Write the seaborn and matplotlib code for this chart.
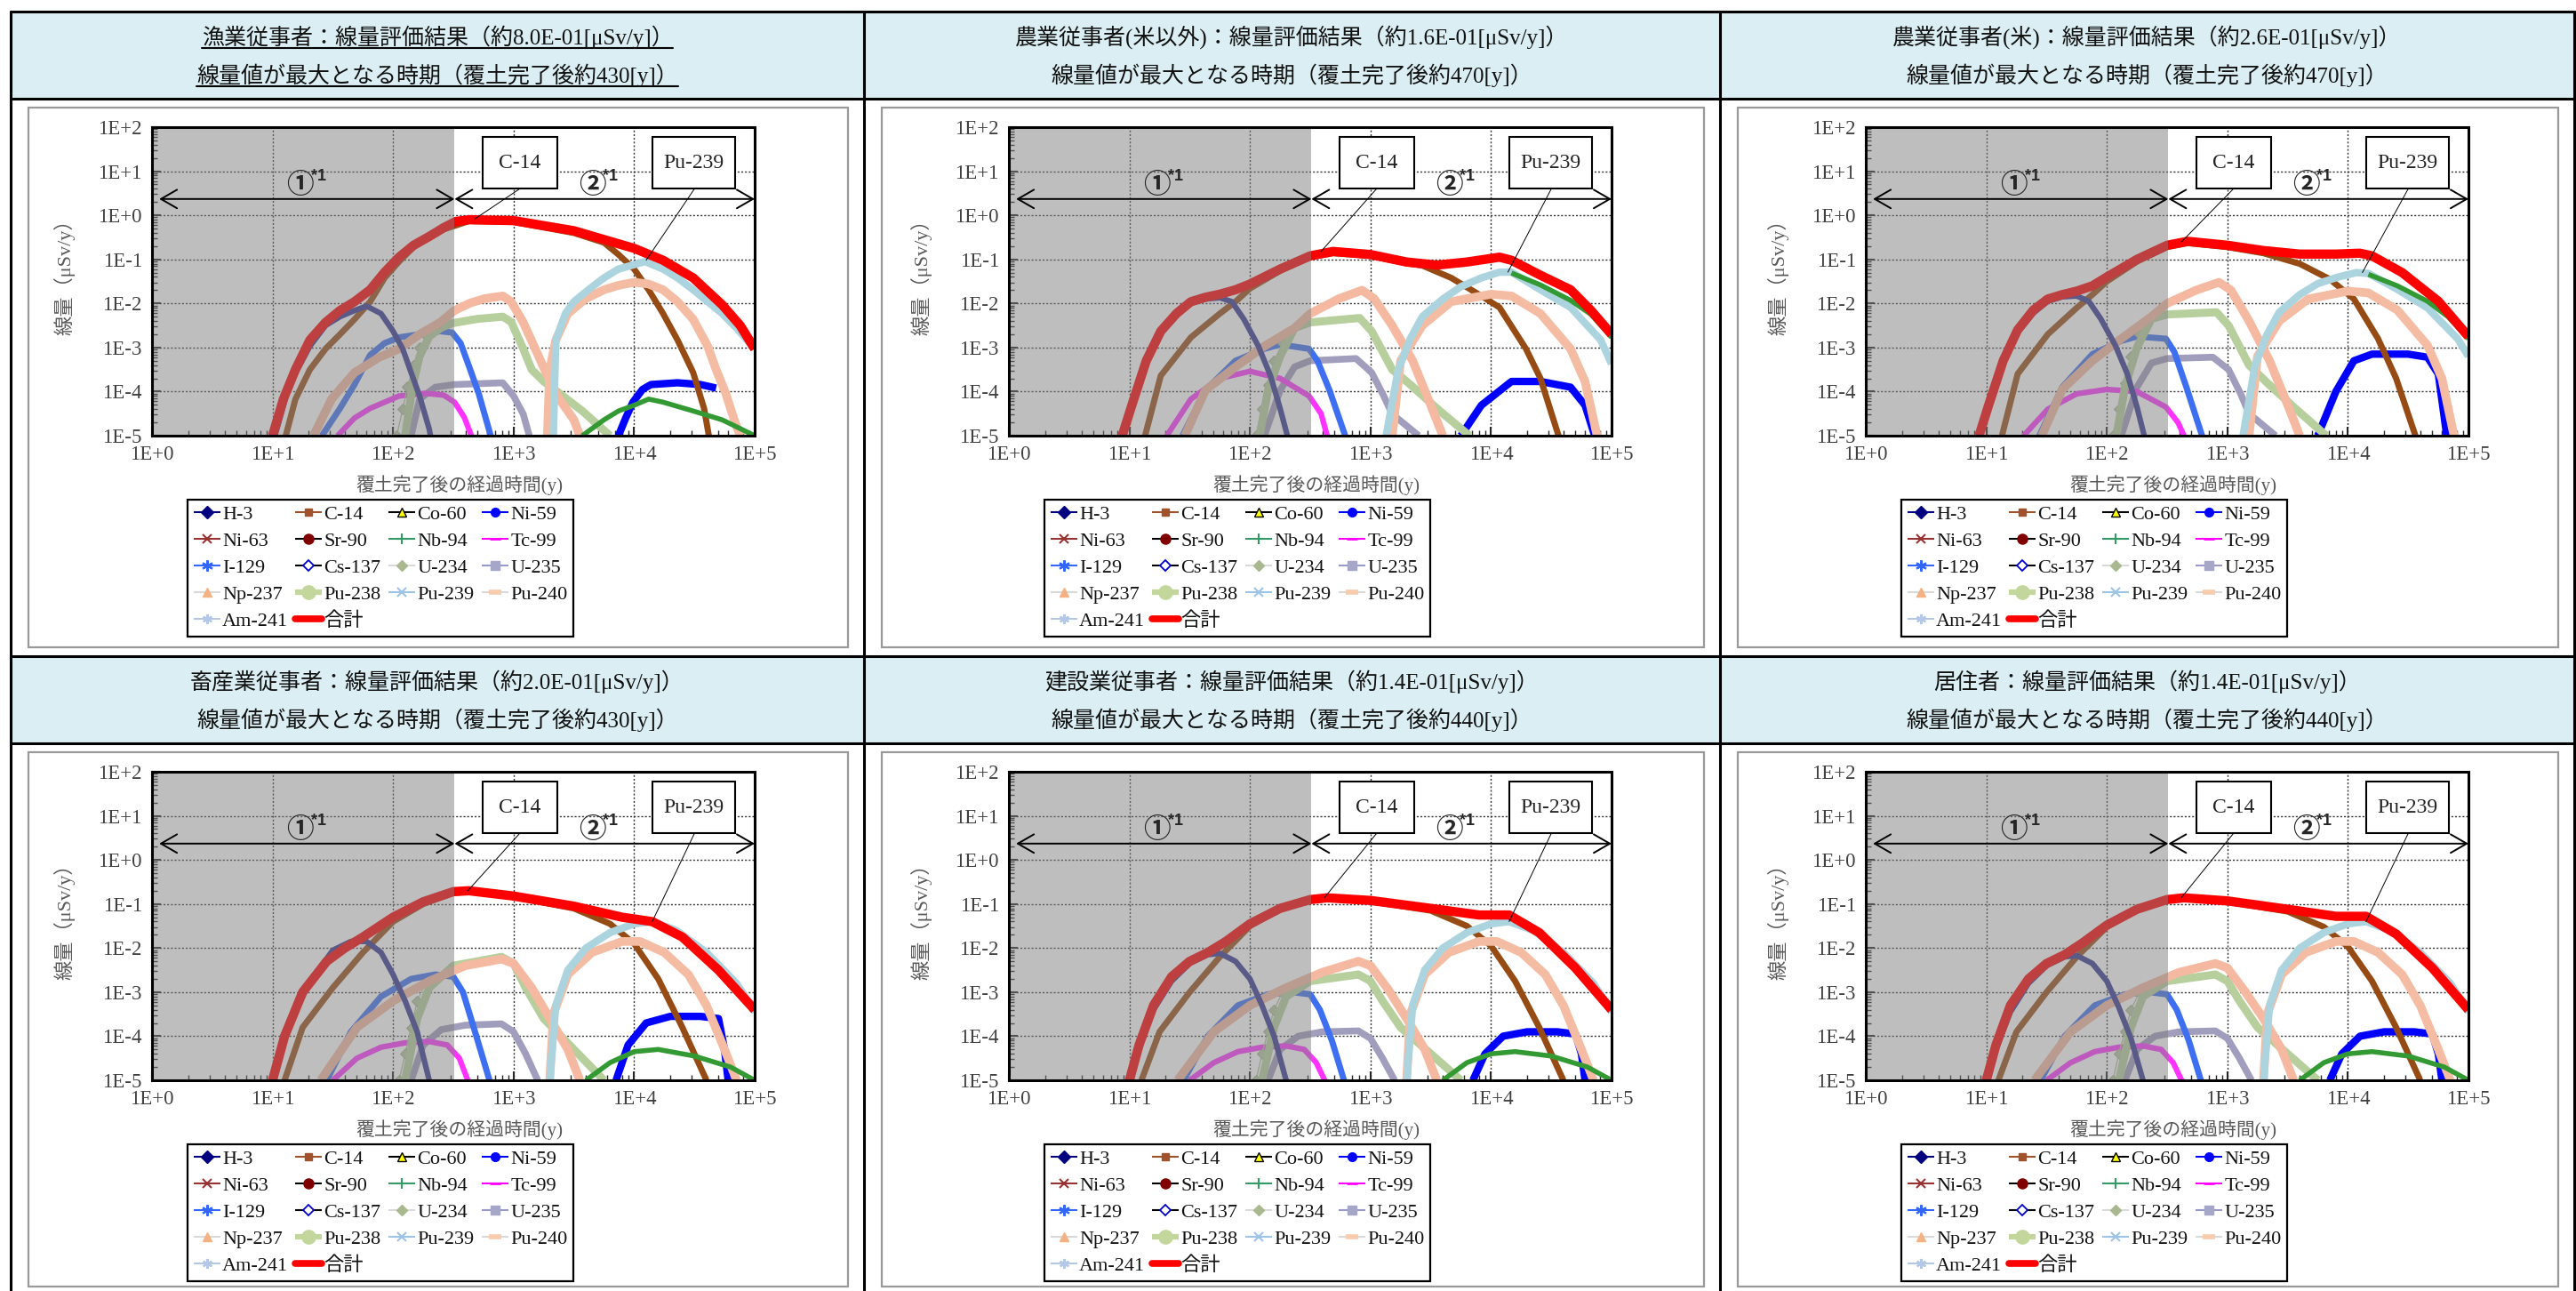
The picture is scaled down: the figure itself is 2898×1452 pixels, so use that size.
# -*- coding: utf-8 -*-
import numpy as np
import pandas as pd
import matplotlib
matplotlib.use("Agg")
import matplotlib.pyplot as plt
import matplotlib.ticker as mticker
from matplotlib.lines import Line2D
from matplotlib.patches import Rectangle
import seaborn as sns

# ---------------------------------------------------------------
# Titles
# ---------------------------------------------------------------
titles_top = [
    "漁業従事者：線量評価結果（約8.0E-01[μSv/y]）",
    "農業従事者(米以外)：線量評価結果（約1.6E-01[μSv/y]）",
    "農業従事者(米)：線量評価結果（約2.6E-01[μSv/y]）",
    "畜産業従事者：線量評価結果（約2.0E-01[μSv/y]）",
    "建設業従事者：線量評価結果（約1.4E-01[μSv/y]）",
    "居住者：線量評価結果（約1.4E-01[μSv/y]）",
]
peak_years = [430, 470, 470, 430, 440, 440]

nuclides = ["H-3", "C-14", "Co-60", "Ni-59", "Ni-63", "Sr-90", "Nb-94", "Tc-99",
            "I-129", "Cs-137", "U-234", "U-235", "Np-237", "Pu-238", "Pu-239",
            "Pu-240", "Am-241", "合計"]

# ---------------------------------------------------------------
# Curves: (log10 years, log10 μSv/y)
# ---------------------------------------------------------------
# 漁業従事者
fish_total = [(1.00, -5.0), (1.09, -4.17), (1.19, -3.50), (1.31, -2.83), (1.44, -2.43), (1.56, -2.16),
              (1.68, -1.96), (1.81, -1.69), (1.93, -1.29), (2.05, -0.95), (2.17, -0.68), (2.30, -0.48),
              (2.42, -0.28), (2.52, -0.14), (2.63, -0.10), (3.00, -0.12), (3.50, -0.35), (3.75, -0.55),
              (4.00, -0.75), (4.24, -1.02), (4.49, -1.42), (4.73, -2.03), (4.88, -2.50), (5.00, -3.03)]
fish_C14 = [(1.11, -5.0), (1.19, -4.17), (1.31, -3.50), (1.44, -3.03), (1.56, -2.70), (1.68, -2.36),
            (1.81, -1.96), (1.93, -1.42), (2.05, -1.05), (2.17, -0.72), (2.42, -0.32), (2.63, -0.13),
            (3.00, -0.15), (3.50, -0.40), (3.75, -0.62), (3.87, -0.89), (4.00, -1.22), (4.12, -1.69),
            (4.24, -2.23), (4.36, -2.83), (4.49, -3.57), (4.58, -4.38), (4.62, -5.0)]
fish_H3 = [(1.02, -5.0), (1.14, -3.84), (1.31, -2.97), (1.44, -2.50), (1.56, -2.30), (1.68, -2.16),
           (1.78, -2.06), (1.90, -2.23), (2.00, -2.63), (2.08, -3.03), (2.15, -3.57), (2.22, -4.10),
           (2.30, -4.85), (2.31, -5.0)]
fish_I129 = [(1.41, -5.0), (1.56, -4.38), (1.68, -3.84), (1.81, -3.17), (1.93, -2.90), (2.05, -2.77),
             (2.22, -2.70), (2.39, -2.63), (2.49, -2.66), (2.56, -2.90), (2.64, -3.50), (2.71, -4.04),
             (2.81, -5.0)]
fish_Tc99 = [(1.54, -5.0), (1.68, -4.60), (1.81, -4.38), (2.05, -4.10), (2.27, -4.04), (2.42, -4.08),
             (2.51, -4.24), (2.59, -4.58), (2.65, -5.0)]
fish_Np237 = [(1.34, -5.0), (1.49, -4.17), (1.68, -3.57), (1.88, -3.23), (2.05, -3.03), (2.22, -2.70),
              (2.39, -2.43), (2.51, -2.16), (2.64, -1.99), (2.76, -1.89), (2.91, -1.83), (2.98, -1.96),
              (3.08, -2.43), (3.18, -3.03), (3.28, -3.64), (3.38, -4.17), (3.50, -4.64), (3.55, -5.0)]
fish_U234 = [(2.03, -5.0), (2.08, -4.40), (2.12, -3.90), (2.17, -3.40), (2.22, -3.00), (2.28, -2.75)]
fish_Pu238 = [(2.10, -5.0), (2.16, -3.90), (2.22, -3.20), (2.30, -2.75), (2.40, -2.55), (2.49, -2.45),
              (2.70, -2.35), (2.91, -2.30), (2.98, -2.42), (3.08, -3.03), (3.15, -3.50), (3.25, -3.77),
              (3.38, -4.04), (3.57, -4.44), (3.80, -5.0)]
fish_U235 = [(2.15, -5.0), (2.22, -4.17), (2.35, -3.90), (2.51, -3.84), (2.91, -3.80), (3.00, -4.10),
             (3.08, -4.51), (3.13, -5.0)]
fish_Pu239 = [(3.33, -5.0), (3.35, -2.83), (3.43, -2.23), (3.50, -1.96), (3.62, -1.69), (3.75, -1.42),
              (3.87, -1.22), (4.00, -1.12), (4.09, -1.05), (4.24, -1.22), (4.36, -1.42), (4.49, -1.69),
              (4.61, -1.96), (4.73, -2.23), (4.85, -2.56), (5.00, -3.03)]
fish_Pu240 = [(3.28, -5.0), (3.30, -3.50), (3.35, -2.83), (3.45, -2.23), (3.60, -1.89), (3.75, -1.69),
              (3.87, -1.59), (4.00, -1.52), (4.12, -1.56), (4.24, -1.69), (4.36, -1.96), (4.49, -2.36),
              (4.61, -2.97), (4.68, -3.50), (4.76, -4.04), (4.83, -4.64), (4.88, -5.0)]
fish_Ni59 = [(3.87, -5.0), (3.93, -4.60), (3.99, -4.24), (4.07, -3.95), (4.14, -3.84), (4.36, -3.80),
             (4.55, -3.84), (4.68, -3.92)]
fish_Nb94 = [(3.57, -5.0), (3.75, -4.64), (3.87, -4.44), (4.00, -4.31), (4.12, -4.17), (4.24, -4.24),
             (4.49, -4.44), (4.73, -4.64), (5.00, -5.0)]

# 農業従事者(米以外)
agri_total = [(0.94, -5.0), (1.02, -4.31), (1.14, -3.30), (1.26, -2.63), (1.39, -2.23), (1.51, -1.96),
              (1.63, -1.86), (1.75, -1.79), (1.88, -1.69), (2.00, -1.56), (2.25, -1.22), (2.50, -0.92),
              (2.69, -0.82), (3.00, -0.89), (3.30, -1.06), (3.55, -1.13), (3.80, -1.06), (4.07, -0.95),
              (4.17, -1.02), (4.41, -1.36), (4.66, -1.69), (4.83, -2.16), (5.00, -2.70)]
agri_C14 = [(1.13, -5.0), (1.26, -3.64), (1.51, -2.77), (1.75, -2.23), (1.88, -1.96), (2.00, -1.66),
            (2.25, -1.26), (2.50, -0.95), (2.69, -0.86), (3.00, -0.92), (3.30, -1.09), (3.43, -1.14),
            (3.67, -1.42), (3.92, -1.83), (4.07, -2.09), (4.29, -3.03), (4.41, -3.70), (4.56, -5.0)]
agri_H3 = [(0.95, -5.0), (1.03, -4.30), (1.14, -3.35), (1.26, -2.68), (1.39, -2.28), (1.51, -2.00),
           (1.63, -1.90), (1.75, -1.87), (1.85, -1.96), (1.95, -2.36), (2.07, -2.97), (2.17, -3.64),
           (2.25, -4.38), (2.31, -5.0)]
agri_I129 = [(1.44, -5.0), (1.63, -3.97), (1.88, -3.30), (2.12, -3.03), (2.25, -2.93), (2.49, -3.03),
             (2.56, -3.30), (2.66, -3.97), (2.79, -5.0)]
agri_Tc99 = [(1.31, -5.0), (1.51, -4.17), (1.75, -3.70), (2.00, -3.54), (2.25, -3.70), (2.49, -4.10),
             (2.59, -4.50), (2.64, -5.0)]
agri_Np237 = [(1.46, -5.0), (1.63, -3.97), (1.88, -3.44), (2.12, -2.97), (2.37, -2.56), (2.50, -2.23),
              (2.74, -1.89), (2.93, -1.70), (3.03, -1.89), (3.18, -2.50), (3.35, -3.30), (3.50, -4.31),
              (3.60, -5.0)]
agri_U234 = [(2.05, -5.0), (2.10, -4.40), (2.15, -3.85), (2.20, -3.30), (2.27, -2.90)]
agri_Pu238 = [(2.08, -5.0), (2.15, -3.97), (2.25, -3.20), (2.37, -2.56), (2.50, -2.43), (2.91, -2.33),
              (3.01, -2.63), (3.18, -3.50), (3.33, -3.84), (3.55, -4.38), (3.82, -5.0)]
agri_U235 = [(2.12, -5.0), (2.25, -3.97), (2.37, -3.44), (2.50, -3.30), (2.88, -3.25), (3.01, -3.57),
             (3.11, -4.10), (3.18, -4.51), (3.40, -5.0)]
agri_Pu239 = [(3.13, -5.0), (3.23, -3.50), (3.33, -2.80), (3.43, -2.30), (3.60, -1.90), (3.75, -1.62),
              (3.92, -1.42), (4.07, -1.29), (4.17, -1.29), (4.41, -1.69), (4.66, -2.09), (4.91, -2.83),
              (5.00, -3.37)]
agri_Nb94 = [(4.17, -1.31), (4.41, -1.58), (4.66, -1.93), (4.83, -2.25), (5.00, -2.77)]
agri_Pu240 = [(3.18, -5.0), (3.25, -3.30), (3.43, -2.50), (3.67, -1.96), (4.00, -1.79), (4.17, -1.83),
              (4.41, -2.23), (4.66, -3.03), (4.78, -3.77), (4.88, -5.0)]
agri_Ni59 = [(3.75, -5.0), (3.92, -4.31), (4.17, -3.77), (4.41, -3.77), (4.66, -3.90), (4.78, -4.31),
             (4.86, -5.0)]

# 農業従事者(米)
rice_total = [(0.94, -5.0), (1.02, -4.30), (1.14, -3.30), (1.26, -2.60), (1.39, -2.15), (1.51, -1.90),
              (1.63, -1.80), (1.75, -1.72), (1.88, -1.60), (2.00, -1.40), (2.25, -1.00), (2.50, -0.68),
              (2.67, -0.59), (3.00, -0.68), (3.30, -0.80), (3.60, -0.88), (3.90, -0.88), (4.10, -0.86),
              (4.20, -0.92), (4.45, -1.30), (4.75, -1.95), (5.00, -2.75)]
rice_C14 = [(1.13, -5.0), (1.26, -3.60), (1.51, -2.70), (1.75, -2.10), (1.88, -1.80), (2.00, -1.50),
            (2.25, -1.05), (2.50, -0.72), (2.67, -0.63), (3.00, -0.72), (3.30, -0.86), (3.60, -1.10),
            (3.85, -1.45), (4.05, -1.90), (4.25, -2.80), (4.40, -3.70), (4.56, -5.0)]
rice_H3 = [(0.95, -5.0), (1.03, -4.30), (1.14, -3.35), (1.26, -2.66), (1.39, -2.22), (1.51, -1.95),
           (1.63, -1.85), (1.75, -1.83), (1.85, -1.95), (1.95, -2.35), (2.07, -2.95), (2.17, -3.60),
           (2.25, -4.35), (2.31, -5.0)]
rice_I129 = [(1.44, -5.0), (1.63, -3.90), (1.88, -3.15), (2.12, -2.85), (2.25, -2.75), (2.49, -2.80),
             (2.56, -3.10), (2.66, -3.90), (2.79, -5.0)]
rice_Tc99 = [(1.31, -5.0), (1.51, -4.40), (1.75, -4.05), (2.00, -3.95), (2.25, -4.00), (2.49, -4.35),
             (2.59, -4.70), (2.64, -5.0)]
rice_Np237 = [(1.46, -5.0), (1.63, -3.95), (1.88, -3.30), (2.12, -2.80), (2.37, -2.30), (2.50, -2.00),
              (2.74, -1.70), (2.93, -1.52), (3.03, -1.70), (3.18, -2.40), (3.35, -3.30), (3.50, -4.30),
              (3.60, -5.0)]
rice_U234 = [(2.05, -5.0), (2.10, -4.40), (2.15, -3.80), (2.20, -3.20), (2.27, -2.70)]
rice_Pu238 = [(2.08, -5.0), (2.15, -3.90), (2.25, -3.00), (2.37, -2.35), (2.50, -2.25), (2.91, -2.20),
              (3.01, -2.50), (3.18, -3.40), (3.33, -3.80), (3.55, -4.35), (3.82, -5.0)]
rice_U235 = [(2.12, -5.0), (2.25, -3.90), (2.37, -3.35), (2.50, -3.25), (2.88, -3.22), (3.01, -3.50),
             (3.11, -4.05), (3.18, -4.50), (3.40, -5.0)]
rice_Pu239 = [(3.13, -5.0), (3.23, -3.40), (3.33, -2.70), (3.43, -2.20), (3.60, -1.80), (3.75, -1.55),
              (3.92, -1.40), (4.07, -1.30), (4.17, -1.32), (4.41, -1.68), (4.66, -2.10), (4.91, -2.80),
              (5.00, -3.20)]
rice_Nb94 = [(4.17, -1.34), (4.41, -1.60), (4.66, -1.95), (4.83, -2.30), (5.00, -2.80)]
rice_Pu240 = [(3.18, -5.0), (3.25, -3.20), (3.43, -2.40), (3.67, -1.90), (4.00, -1.72), (4.17, -1.76),
              (4.41, -2.15), (4.66, -2.95), (4.78, -3.70), (4.88, -5.0)]
rice_Ni59 = [(3.75, -5.0), (3.90, -4.00), (4.05, -3.30), (4.20, -3.15), (4.50, -3.15), (4.66, -3.22),
             (4.75, -3.60), (4.82, -5.0)]

# 畜産業従事者
stock_total = [(1.00, -5.0), (1.10, -4.00), (1.25, -3.00), (1.45, -2.30), (1.60, -2.00), (1.75, -1.75),
               (2.00, -1.30), (2.25, -0.95), (2.50, -0.72), (2.63, -0.70), (3.00, -0.82), (3.50, -1.05),
               (3.90, -1.30), (4.15, -1.40), (4.40, -1.75), (4.70, -2.50), (5.00, -3.40)]
stock_C14 = [(1.10, -5.0), (1.25, -3.80), (1.50, -2.90), (1.75, -2.10), (2.00, -1.40), (2.25, -1.00),
             (2.50, -0.75), (2.63, -0.72), (3.00, -0.84), (3.50, -1.10), (3.80, -1.45), (4.00, -1.90),
             (4.20, -2.70), (4.40, -3.80), (4.60, -5.0)]
stock_H3 = [(1.00, -5.0), (1.10, -4.00), (1.30, -2.80), (1.50, -2.05), (1.65, -1.85), (1.78, -1.85),
            (1.90, -2.10), (2.00, -2.60), (2.10, -3.20), (2.20, -3.90), (2.30, -5.0)]
stock_I129 = [(1.45, -5.0), (1.65, -3.90), (1.90, -3.10), (2.15, -2.70), (2.35, -2.60), (2.50, -2.65),
              (2.58, -3.00), (2.68, -3.90), (2.80, -5.0)]
stock_Tc99 = [(1.50, -5.0), (1.70, -4.50), (1.90, -4.25), (2.10, -4.15), (2.30, -4.12), (2.45, -4.20),
              (2.55, -4.50), (2.62, -5.0)]
stock_Np237 = [(1.40, -5.0), (1.70, -3.80), (2.00, -3.20), (2.30, -2.75), (2.60, -2.40), (2.90, -2.25),
               (3.00, -2.35), (3.15, -2.90), (3.30, -3.60), (3.45, -4.30), (3.55, -5.0)]
stock_U234 = [(2.05, -5.0), (2.10, -4.40), (2.15, -3.80), (2.20, -3.20), (2.27, -2.80)]
stock_Pu238 = [(2.10, -5.0), (2.20, -3.60), (2.30, -2.90), (2.50, -2.40), (2.90, -2.20), (3.00, -2.35),
               (3.10, -2.90), (3.25, -3.60), (3.50, -4.30), (3.75, -5.0)]
stock_U235 = [(2.15, -5.0), (2.25, -4.20), (2.40, -3.85), (2.60, -3.75), (2.90, -3.72), (3.00, -3.90),
              (3.10, -4.40), (3.20, -5.0)]
stock_Pu239 = [(3.30, -5.0), (3.35, -3.30), (3.45, -2.50), (3.60, -2.00), (3.80, -1.65), (4.00, -1.45),
               (4.15, -1.40), (4.35, -1.60), (4.60, -2.10), (4.85, -2.80), (5.00, -3.45)]
stock_Pu240 = [(3.30, -5.0), (3.33, -3.50), (3.45, -2.60), (3.65, -2.10), (3.90, -1.85), (4.05, -1.85),
               (4.25, -2.10), (4.45, -2.60), (4.60, -3.30), (4.75, -4.30), (4.85, -5.0)]
stock_Ni59 = [(3.85, -5.0), (3.95, -4.20), (4.10, -3.70), (4.30, -3.55), (4.55, -3.55), (4.70, -3.60),
              (4.75, -4.30), (4.78, -5.0)]
stock_Nb94 = [(3.60, -5.0), (3.80, -4.60), (4.00, -4.35), (4.20, -4.30), (4.50, -4.45), (4.80, -4.70),
              (5.00, -5.0)]

# 建設業従事者
build_total = [(1.00, -5.0), (1.08, -4.20), (1.20, -3.30), (1.35, -2.65), (1.50, -2.30), (1.65, -2.10),
               (1.80, -1.85), (2.00, -1.45), (2.25, -1.10), (2.50, -0.90), (2.64, -0.86), (3.00, -0.92),
               (3.50, -1.10), (3.90, -1.25), (4.15, -1.25), (4.40, -1.65), (4.70, -2.45), (5.00, -3.40)]
build_C14 = [(1.10, -5.0), (1.25, -3.90), (1.50, -3.00), (1.75, -2.20), (2.00, -1.50), (2.25, -1.12),
             (2.50, -0.92), (2.64, -0.88), (3.00, -0.94), (3.50, -1.15), (3.80, -1.50), (4.00, -1.95),
             (4.20, -2.75), (4.40, -3.80), (4.60, -5.0)]
build_H3 = [(1.00, -5.0), (1.08, -4.25), (1.20, -3.40), (1.35, -2.75), (1.50, -2.35), (1.65, -2.15),
            (1.75, -2.12), (1.88, -2.30), (2.00, -2.70), (2.10, -3.30), (2.20, -4.00), (2.30, -5.0)]
build_I129 = [(1.45, -5.0), (1.65, -4.00), (1.90, -3.30), (2.15, -3.05), (2.35, -3.00), (2.50, -3.05),
              (2.58, -3.40), (2.68, -4.10), (2.78, -5.0)]
build_Tc99 = [(1.50, -5.0), (1.70, -4.60), (1.90, -4.35), (2.10, -4.25), (2.30, -4.22), (2.45, -4.30),
              (2.55, -4.60), (2.62, -5.0)]
build_Np237 = [(1.40, -5.0), (1.70, -3.90), (2.00, -3.30), (2.30, -2.90), (2.60, -2.55), (2.90, -2.30),
               (3.00, -2.40), (3.15, -2.95), (3.30, -3.60), (3.45, -4.30), (3.55, -5.0)]
build_U234 = [(2.05, -5.0), (2.10, -4.40), (2.15, -3.90), (2.20, -3.40), (2.27, -3.00)]
build_Pu238 = [(2.10, -5.0), (2.20, -3.80), (2.30, -3.10), (2.50, -2.75), (2.90, -2.60), (3.00, -2.75),
               (3.10, -3.20), (3.25, -3.80), (3.50, -4.40), (3.75, -5.0)]
build_U235 = [(2.15, -5.0), (2.25, -4.30), (2.40, -4.00), (2.60, -3.90), (2.90, -3.88), (3.00, -4.05),
              (3.10, -4.50), (3.20, -5.0)]
build_Pu239 = [(3.30, -5.0), (3.35, -3.30), (3.45, -2.50), (3.60, -2.00), (3.80, -1.65), (4.00, -1.45),
               (4.15, -1.40), (4.35, -1.60), (4.60, -2.10), (4.85, -2.80), (5.00, -3.45)]
build_Pu240 = [(3.30, -5.0), (3.33, -3.50), (3.45, -2.60), (3.65, -2.10), (3.90, -1.85), (4.05, -1.85),
               (4.25, -2.10), (4.45, -2.60), (4.60, -3.30), (4.75, -4.30), (4.85, -5.0)]
build_Ni59 = [(3.85, -5.0), (3.95, -4.40), (4.10, -4.00), (4.30, -3.90), (4.55, -3.90), (4.70, -3.95),
              (4.75, -4.40), (4.78, -5.0)]
build_Nb94 = [(3.60, -5.0), (3.80, -4.60), (4.00, -4.40), (4.20, -4.35), (4.50, -4.45), (4.80, -4.70),
              (5.00, -5.0)]

# 居住者
home_total = [(1.00, -5.0), (1.08, -4.20), (1.20, -3.30), (1.35, -2.70), (1.50, -2.35), (1.65, -2.15),
              (1.80, -1.88), (2.00, -1.48), (2.25, -1.12), (2.50, -0.90), (2.64, -0.86), (3.00, -0.93),
              (3.50, -1.12), (3.90, -1.28), (4.15, -1.28), (4.40, -1.68), (4.70, -2.45), (5.00, -3.40)]
home_C14 = [(1.10, -5.0), (1.25, -3.90), (1.50, -3.00), (1.75, -2.20), (2.00, -1.52), (2.25, -1.14),
            (2.50, -0.92), (2.64, -0.88), (3.00, -0.95), (3.50, -1.17), (3.80, -1.52), (4.00, -1.97),
            (4.20, -2.75), (4.40, -3.80), (4.60, -5.0)]
home_H3 = [(1.00, -5.0), (1.08, -4.30), (1.20, -3.45), (1.35, -2.80), (1.50, -2.40), (1.65, -2.20),
           (1.75, -2.17), (1.88, -2.35), (2.00, -2.75), (2.10, -3.35), (2.20, -4.05), (2.30, -5.0)]
home_I129 = [(1.45, -5.0), (1.65, -4.00), (1.90, -3.30), (2.15, -3.05), (2.35, -3.00), (2.50, -3.05),
             (2.58, -3.40), (2.68, -4.10), (2.78, -5.0)]
home_Tc99 = [(1.50, -5.0), (1.70, -4.60), (1.90, -4.35), (2.10, -4.25), (2.30, -4.22), (2.45, -4.30),
             (2.55, -4.60), (2.62, -5.0)]
home_Np237 = [(1.40, -5.0), (1.70, -3.90), (2.00, -3.30), (2.30, -2.90), (2.60, -2.55), (2.90, -2.35),
              (3.00, -2.45), (3.15, -3.00), (3.30, -3.60), (3.45, -4.30), (3.55, -5.0)]
home_U234 = [(2.05, -5.0), (2.10, -4.40), (2.15, -3.90), (2.20, -3.40), (2.27, -3.00)]
home_Pu238 = [(2.10, -5.0), (2.20, -3.80), (2.30, -3.10), (2.50, -2.75), (2.90, -2.60), (3.00, -2.75),
              (3.10, -3.20), (3.25, -3.80), (3.50, -4.40), (3.75, -5.0)]
home_U235 = [(2.15, -5.0), (2.25, -4.30), (2.40, -4.00), (2.60, -3.90), (2.90, -3.88), (3.00, -4.05),
             (3.10, -4.50), (3.20, -5.0)]
home_Pu239 = [(3.30, -5.0), (3.35, -3.30), (3.45, -2.50), (3.60, -2.00), (3.80, -1.65), (4.00, -1.45),
              (4.15, -1.40), (4.35, -1.60), (4.60, -2.10), (4.85, -2.80), (5.00, -3.45)]
home_Pu240 = [(3.30, -5.0), (3.33, -3.50), (3.45, -2.60), (3.65, -2.10), (3.90, -1.85), (4.05, -1.85),
              (4.25, -2.10), (4.45, -2.60), (4.60, -3.30), (4.75, -4.30), (4.85, -5.0)]
home_Ni59 = [(3.85, -5.0), (3.95, -4.40), (4.10, -4.00), (4.30, -3.90), (4.55, -3.90), (4.70, -3.95),
             (4.75, -4.40), (4.78, -5.0)]
home_Nb94 = [(3.60, -5.0), (3.80, -4.60), (4.00, -4.40), (4.20, -4.35), (4.50, -4.45), (4.80, -4.70),
             (5.00, -5.0)]

# points the C-14 / Pu-239 call-out lines point at (log10 coords)
c14_marks = [(2.68, -0.08), (2.59, -0.82), (2.62, -0.60), (2.62, -0.70), (2.62, -0.85), (2.62, -0.85)]
pu_marks = [(4.10, -1.02), (4.14, -1.29), (4.12, -1.30), (4.15, -1.40), (4.15, -1.40), (4.15, -1.40)]

panels = []
for pre in ["fish", "agri", "rice", "stock", "build", "home"]:
    g = globals()
    panels.append({
        "合計": g[pre + "_total"], "C-14": g[pre + "_C14"], "H-3": g[pre + "_H3"],
        "I-129": g[pre + "_I129"], "Tc-99": g[pre + "_Tc99"], "Np-237": g[pre + "_Np237"],
        "U-234": g[pre + "_U234"], "Pu-238": g[pre + "_Pu238"], "U-235": g[pre + "_U235"],
        "Pu-239": g[pre + "_Pu239"], "Pu-240": g[pre + "_Pu240"], "Ni-59": g[pre + "_Ni59"],
        "Nb-94": g[pre + "_Nb94"],
    })

# ---------------------------------------------------------------
# Styles
# ---------------------------------------------------------------
curve_style = {  # colour, line width
    "H-3": ("#343590", 4.5), "C-14": ("#964B14", 5.0), "Ni-59": ("#0000ff", 6.0),
    "Nb-94": ("#339933", 4.0), "Tc-99": ("#ff33ff", 4.5), "I-129": ("#3d6ff0", 5.0),
    "U-234": ("#b6c4a2", 1.0), "U-235": ("#a19dbd", 5.5), "Np-237": ("#f4b9a0", 7.0),
    "Pu-238": ("#b7cf9c", 6.5), "Pu-239": ("#acd4df", 6.0), "Pu-240": ("#f5bca4", 7.0),
    "合計": ("#ff0000", 7.5),
}
draw_order = ["Ni-59", "U-235", "Tc-99", "I-129", "U-234", "Pu-238", "Np-237", "C-14", "H-3",
              "Pu-240", "Pu-239", "Nb-94", "合計"]

legend_style = {  # line colour, lw, marker, size, face, edge, edge width
    "H-3": ("#000080", 1.5, "D", 7, "#000080", "#000080", 1),
    "C-14": ("#a0522d", 1.5, "s", 6, "#a0522d", "#a0522d", 1),
    "Co-60": ("#000000", 1.5, "^", 7, "#ffff00", "#000000", 1),
    "Ni-59": ("#0000ff", 1.5, "o", 7, "#0000ff", "#0000ff", 1),
    "Ni-63": ("#993333", 1.5, "x", 7, "#993333", "#993333", 1.5),
    "Sr-90": ("#000000", 1.5, "o", 8, "#800000", "#800000", 1),
    "Nb-94": ("#339966", 1.5, "+", 8, "#339966", "#339966", 1.5),
    "Tc-99": ("#ff00ff", 1.5, "_", 8, "#ff00ff", "#ff00ff", 2),
    "I-129": ("#3366ff", 1.5, (6, 2, 0), 9, "#3366ff", "#3366ff", 1.5),
    "Cs-137": ("#000000", 1.5, "D", 6, "white", "#0000cc", 1.3),
    "U-234": ("#d9d9d9", 1.5, "D", 6, "#a9b88f", "#a9b88f", 1),
    "U-235": ("#9999cc", 1.5, "s", 7, "#a6a6c8", "#a6a6c8", 1),
    "Np-237": ("#d9d9d9", 1.5, "^", 7, "#f4b183", "#f4b183", 1),
    "Pu-238": ("#c3d69b", 4.5, "o", 11, "#c3d69b", "#c3d69b", 1),
    "Pu-239": ("#9dc3e6", 1.5, "x", 7, "#9dc3e6", "#9dc3e6", 1.5),
    "Pu-240": ("#d9d9d9", 1.5, "_", 10, "#f8cbad", "#f8cbad", 4),
    "Am-241": ("#b4c7e7", 1.5, (6, 2, 0), 8, "#b4c7e7", "#b4c7e7", 1.5),
    "合計": ("#ff0000", 5.5, None, 0, "#ff0000", "#ff0000", 1),
}
# matplotlib fills legend columns first; this order gives the row-wise look
legend_order = ["H-3", "Ni-63", "I-129", "Np-237", "Am-241",
                "C-14", "Sr-90", "Cs-137", "Pu-238", "合計",
                "Co-60", "Nb-94", "U-234", "Pu-239",
                "Ni-59", "Tc-99", "U-235", "Pu-240"]

sns.set_style("ticks")
plt.rcParams["font.family"] = ["Liberation Serif", "Noto Sans CJK JP", "DejaVu Sans"]
plt.rcParams["axes.unicode_minus"] = False

W, H = 2898, 1452
fig = plt.figure(figsize=(W / 100, H / 100), dpi=100, facecolor="white")


def fx(px):
    return px / W


def fy(py):
    return 1 - py / H


def fig_rect(x0, y0, x1, y1, **kw):
    fig.patches.append(Rectangle((fx(x0), fy(y1)), (x1 - x0) / W, (y1 - y0) / H,
                                 transform=fig.transFigure, **kw))


def fig_line(xs, ys, **kw):
    fig.add_artist(Line2D([fx(x) for x in xs], [fy(y) for y in ys],
                          transform=fig.transFigure, **kw))


COL_X = [12, 972, 1935, 2896]
ROW_TOP = [13, 738]
HEAD_H = 98
AX_L = [171, 1135, 2099]
AX_T = [143, 868]
AX_W, AX_H = 678, 347

# table: header fill, chart boxes, rules
for r in range(2):
    for c in range(3):
        fig_rect(COL_X[c], ROW_TOP[r], COL_X[c + 1], ROW_TOP[r] + HEAD_H,
                 facecolor="#daeef3", edgecolor="none", zorder=-10)
        fig_rect(COL_X[c] + 20, ROW_TOP[r] + HEAD_H + 10, COL_X[c + 1] - 18, 728 if r == 0 else 1447,
                 facecolor="white", edgecolor="#999999", lw=1.6, zorder=-9)
for yy in [ROW_TOP[0], ROW_TOP[0] + HEAD_H, ROW_TOP[1], ROW_TOP[1] + HEAD_H]:
    fig_line([COL_X[0], COL_X[3]], [yy, yy], color="black", lw=2.2, zorder=5)
for xx in COL_X:
    fig_line([xx, xx], [ROW_TOP[0], H + 5], color="black", lw=2.2, zorder=5)

head_texts = []
for i in range(6):
    r, c = divmod(i, 3)
    cx = (COL_X[c] + COL_X[c + 1]) / 2
    t1 = fig.text(fx(cx), fy(ROW_TOP[r] + 29), titles_top[i], ha="center", va="center",
                  fontsize=18, color="#111111")
    t2 = fig.text(fx(cx), fy(ROW_TOP[r] + 72),
                  f"線量値が最大となる時期（覆土完了後約{peak_years[i]}[y]）",
                  ha="center", va="center", fontsize=18, color="#111111")
    head_texts.append((t1, t2))

X_SPLIT = 10 ** 2.51
Y_ARR = 10 ** 0.37


def log_fmt(v, pos):
    e = int(round(np.log10(v)))
    return f"1E{e:+d}"


handles = []
for name in legend_order:
    lc, lw, mk, ms, mf, me, mew = legend_style[name]
    handles.append(Line2D([], [], color=lc, lw=lw, marker=mk, markersize=ms,
                          markerfacecolor=mf, markeredgecolor=me, markeredgewidth=mew,
                          solid_capstyle="round" if name == "合計" else "butt"))

for i, curves in enumerate(panels):
    r, c = divmod(i, 3)
    ax = fig.add_axes([fx(AX_L[c]), fy(AX_T[r] + AX_H), AX_W / W, AX_H / H])
    ax.set_facecolor("white")

    for name in draw_order:
        pts = curves.get(name)
        if not pts:
            continue
        lx, ly = zip(*pts)
        df = pd.DataFrame({"t": np.power(10.0, lx), "dose": np.power(10.0, ly)})
        col, lw = curve_style[name]
        extra = {}
        if name == "U-234":
            extra = dict(marker="D", markersize=6, markerfacecolor="#b6c4a2", markeredgecolor="#9fb08a")
        sns.lineplot(data=df, x="t", y="dose", ax=ax, color=col, linewidth=lw, sort=False,
                     estimator=None, legend=False, solid_capstyle="butt", zorder=2, **extra)

    ax.set_xscale("log")
    ax.set_yscale("log")
    ax.set_xlim(1, 1e5)
    ax.set_ylim(1e-5, 1e2)

    # period (1): grey band
    ax.axvspan(1, X_SPLIT, facecolor="#7f7f7f", alpha=0.5, lw=0, zorder=3)

    ax.xaxis.set_major_locator(mticker.LogLocator(base=10, numticks=10))
    ax.yaxis.set_major_locator(mticker.LogLocator(base=10, numticks=10))
    ax.xaxis.set_minor_locator(mticker.LogLocator(base=10, subs=np.arange(2, 10), numticks=10))
    ax.yaxis.set_minor_locator(mticker.LogLocator(base=10, subs=np.arange(2, 10), numticks=10))
    ax.xaxis.set_major_formatter(mticker.FuncFormatter(log_fmt))
    ax.yaxis.set_major_formatter(mticker.FuncFormatter(log_fmt))
    ax.xaxis.set_minor_formatter(mticker.NullFormatter())
    ax.yaxis.set_minor_formatter(mticker.NullFormatter())
    ax.tick_params(which="major", direction="in", length=7, width=1.5, labelsize=16.5,
                   labelcolor="#404040", pad=8)
    ax.tick_params(which="minor", direction="in", length=4, width=1.0)
    ax.grid(True, which="major", color="#333333", lw=1.0, ls=(0, (1.5, 1.5)), zorder=1)
    ax.set_axisbelow(True)
    for sp in ax.spines.values():
        sp.set_linewidth(2.2)
        sp.set_color("black")
        sp.set_zorder(8)

    ax.set_xlabel("覆土完了後の経過時間(y)", fontsize=15, color="#595959")
    ax.set_ylabel("線量（μSv/y）", fontsize=16, color="#595959")
    ax.xaxis.set_label_coords(0.51, -0.128)
    ax.yaxis.set_label_coords(-0.128, 0.53)

    # arrows for periods (1) and (2)
    arr = dict(arrowstyle="<->,head_length=1.3,head_width=0.75", lw=1.4, color="black",
               shrinkA=0, shrinkB=0)
    ax.annotate("", xy=(10 ** 0.06, Y_ARR), xytext=(X_SPLIT, Y_ARR), arrowprops=arr, zorder=7)
    ax.annotate("", xy=(X_SPLIT, Y_ARR), xytext=(1e5, Y_ARR), arrowprops=arr, zorder=7)
    ax.text(10 ** 1.23, 10 ** 0.68, "①", ha="center", va="center", fontsize=22,
            fontweight="bold", family=["Noto Sans CJK JP"], zorder=7)
    ax.text(10 ** 1.38, 10 ** 0.88, "*1", ha="center", va="center", fontsize=13,
            fontweight="bold", family=["Liberation Sans"], zorder=7)
    ax.text(10 ** 3.65, 10 ** 0.68, "②", ha="center", va="center", fontsize=22,
            fontweight="bold", family=["Noto Sans CJK JP"], zorder=7)
    ax.text(10 ** 3.80, 10 ** 0.88, "*1", ha="center", va="center", fontsize=13,
            fontweight="bold", family=["Liberation Sans"], zorder=7)

    # call-out boxes
    for (x0, x1, lab, anchor, mark) in [(2.74, 3.36, "C-14", 3.05, c14_marks[i]),
                                        (4.15, 4.84, "Pu-239", 4.50, pu_marks[i])]:
        ax.add_patch(Rectangle((10 ** x0, 10 ** 0.60), 10 ** x1 - 10 ** x0, 10 ** 1.78 - 10 ** 0.60,
                               facecolor="white", edgecolor="black", lw=1.5, zorder=6))
        ax.text(10 ** ((x0 + x1) / 2), 10 ** 1.19, lab, ha="center", va="center",
                fontsize=17, color="#222222", zorder=7)
        ax.plot([10 ** anchor, 10 ** mark[0]], [10 ** 0.60, 10 ** mark[1]], color="black",
                lw=0.7, zorder=6)

    leg = ax.legend(handles, legend_order, loc="upper left", ncol=4, mode="expand",
                    bbox_to_anchor=(fx(AX_L[c] + 40), fy(562 + 725 * r), 434 / W, 0),
                    bbox_transform=fig.transFigure, fontsize=16, frameon=True, fancybox=False,
                    edgecolor="black", framealpha=1, borderaxespad=0, handlelength=1.35,
                    handletextpad=0.1, labelspacing=0.42, borderpad=0.3, columnspacing=0.3)
    leg.get_frame().set_linewidth(1.6)
    for t in leg.get_texts():
        t.set_color("#111111")

# underline the first panel heading
fig.canvas.draw()
ren = fig.canvas.get_renderer()
for t in head_texts[0]:
    bb = t.get_window_extent(ren)
    fig.add_artist(Line2D([bb.x0 / W, bb.x1 / W], [(bb.y0 + 1) / H] * 2,
                          transform=fig.transFigure, color="black", lw=1.5))

fig.savefig("out.png", dpi=100, facecolor="white")
